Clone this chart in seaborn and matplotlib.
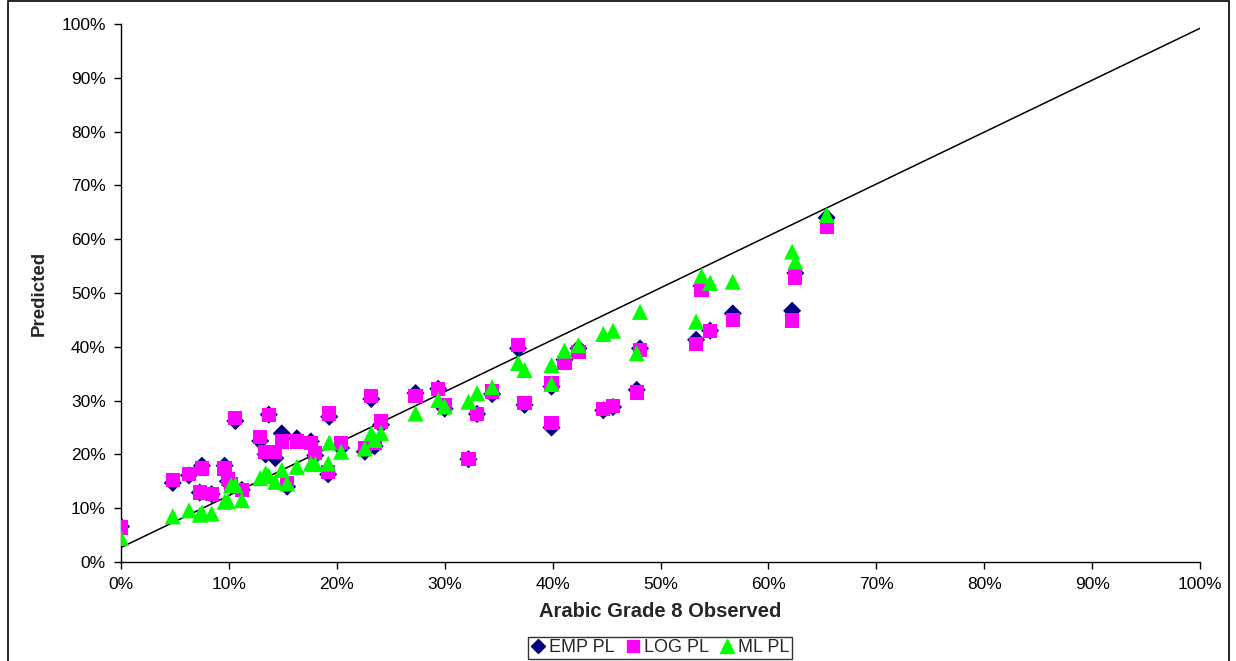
import numpy as np
import pandas as pd
import matplotlib
matplotlib.use("Agg")
import matplotlib.pyplot as plt
import seaborn as sns
from matplotlib.patches import Rectangle
from matplotlib.ticker import PercentFormatter, MultipleLocator
from matplotlib.lines import Line2D

observed = [0.0, 4.8, 6.3, 7.5, 7.3, 8.4, 9.6, 9.9, 10.2, 10.6, 11.2, 12.9, 13.4, 13.7,
            14.3, 14.9, 15.4, 16.3, 17.6, 18.0, 19.3, 19.2, 20.4, 22.6, 23.2, 23.5, 24.1,
            27.3, 29.4, 30.0, 32.2, 33.0, 34.4, 36.8, 37.4, 39.9, 39.9, 41.1, 42.4, 44.7,
            45.6, 47.8, 48.1, 53.3, 53.8, 54.6, 56.7, 62.2, 62.5, 65.4]
emp_pl = [6.6, 14.7, 16.1, 17.9, 12.9, 12.6, 17.9, 15.0, 14.2, 26.2, 13.4, 22.5, 20.0, 27.4,
          19.3, 23.9, 14.0, 23.0, 22.4, 19.8, 27.0, 16.3, 21.2, 20.5, 30.3, 21.5, 25.5,
          31.4, 32.2, 28.5, 19.1, 27.5, 31.2, 39.7, 29.2, 25.0, 32.6, 37.6, 39.7, 28.2,
          28.8, 32.0, 39.7, 41.3, 51.3, 43.0, 46.2, 46.7, 53.7, 64.0]
log_pl = [6.4, 15.2, 16.4, 17.4, 12.9, 12.7, 17.4, 15.4, 14.4, 26.7, 13.4, 23.2, 20.5, 27.3,
          20.5, 22.4, 14.6, 22.4, 22.1, 20.2, 27.6, 16.8, 22.1, 21.1, 30.9, 22.1, 26.1,
          30.9, 32.2, 29.2, 19.1, 27.5, 31.7, 40.3, 29.6, 25.8, 33.3, 37.0, 39.1, 28.4,
          29.0, 31.5, 39.4, 40.5, 50.6, 43.0, 45.0, 44.9, 52.9, 62.3]
ml_pl = [4.5, 8.5, 9.6, 9.2, 8.8, 9.0, 11.2, 11.3, 14.3, 14.3, 11.5, 15.6, 16.5, 16.0,
         14.9, 17.1, 14.6, 17.7, 18.3, 18.2, 22.2, 18.3, 20.5, 21.1, 23.9, 22.7, 24.0,
         27.6, 30.1, 28.9, 29.8, 31.4, 32.5, 37.0, 35.7, 36.6, 33.1, 39.3, 40.3, 42.4,
         43.0, 38.8, 46.5, 44.7, 53.2, 51.9, 52.1, 57.7, 55.8, 64.5]
series_names = ["EMP PL", "LOG PL", "ML PL"]
fit_intercept = 2.7
fit_slope = 0.965

df = pd.DataFrame({"observed": np.array(observed) / 100,
                   "EMP PL": np.array(emp_pl) / 100,
                   "LOG PL": np.array(log_pl) / 100,
                   "ML PL": np.array(ml_pl) / 100})
long = df.melt(id_vars="observed", var_name="series", value_name="predicted")

sns.set_theme(style="white")
plt.rcParams["font.family"] = ["Liberation Sans", "DejaVu Sans"]

fig = plt.figure(figsize=(12.36, 6.61), dpi=100)
ax = fig.add_axes([121/1236, 1 - 562/661, (1200 - 121)/1236, (562 - 24)/661])

colors = {"EMP PL": "#000080", "LOG PL": "#FF00FF", "ML PL": "#00FF00"}
markers = {"EMP PL": "D", "LOG PL": "s", "ML PL": "^"}
sizes = {"EMP PL": 85, "LOG PL": 105, "ML PL": 135}
for name in series_names:
    sub = long[long["series"] == name]
    sns.scatterplot(data=sub, x="observed", y="predicted", ax=ax, color=colors[name],
                    marker=markers[name], s=sizes[name], edgecolor="none", linewidth=0,
                    legend=False, zorder=3)

xs = np.array([0.0, 1.0])
ax.plot(xs, fit_intercept / 100 + fit_slope * xs, color="black", lw=1.1, zorder=2)

ax.set_xlim(0, 1)
ax.set_ylim(0, 1)
ax.xaxis.set_major_locator(MultipleLocator(0.1))
ax.yaxis.set_major_locator(MultipleLocator(0.1))
ax.xaxis.set_major_formatter(PercentFormatter(1.0, decimals=0))
ax.yaxis.set_major_formatter(PercentFormatter(1.0, decimals=0))
for s in ["top", "right"]:
    ax.spines[s].set_visible(False)
for s in ["left", "bottom"]:
    ax.spines[s].set_color("black")
    ax.spines[s].set_linewidth(1.0)
ax.tick_params(axis="both", which="major", direction="out", length=5, width=1,
               color="black", labelsize=12.5, labelcolor="black", left=True, bottom=True)
ax.tick_params(axis="x", pad=6)
ax.tick_params(axis="y", pad=6)
ax.set_xlabel("Arabic Grade 8 Observed", fontsize=14.5, fontweight="bold", labelpad=7)
ax.set_ylabel("Predicted", fontsize=13.5, fontweight="bold", labelpad=10)
ax.grid(False)

handles = [Line2D([], [], linestyle="none", marker=markers[n], color=colors[n],
                  markersize={"EMP PL": 7, "LOG PL": 8.5, "ML PL": 10}[n]) for n in series_names]
leg = fig.legend(handles, series_names, loc="center", bbox_to_anchor=(660/1236, 1 - 648/661),
                 ncol=3, frameon=True, fancybox=False, fontsize=13, handlelength=0.8,
                 handletextpad=0.2, columnspacing=0.6, borderpad=0.15)
leg.get_frame().set_edgecolor("black")
leg.get_frame().set_linewidth(1.0)

fig.patches.append(Rectangle((8/1236, -0.05), (1229 - 8)/1236, 1.05 - 1.5/661,
                             transform=fig.transFigure, fill=False, edgecolor="black", lw=1.2))

fig.savefig("out.png", dpi=100)
